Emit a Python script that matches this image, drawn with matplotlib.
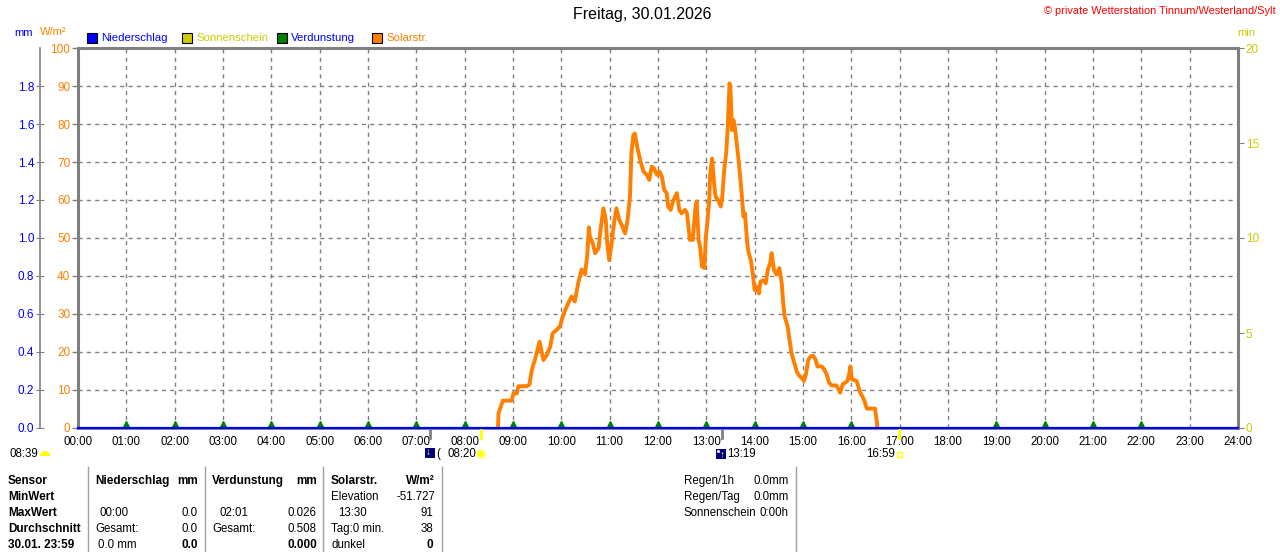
import matplotlib
matplotlib.use("Agg")
import matplotlib.pyplot as plt
from matplotlib.patches import Rectangle, Circle, Wedge
from matplotlib.transforms import IdentityTransform

W, H = 1280, 552
plt.rcParams['font.family'] = ['Liberation Sans', 'DejaVu Sans']
plt.rcParams['font.size'] = 8

# Solarstrahlung (W/m2), Zeit in Stunden
solar_hours = [8.69, 8.70, 8.79, 8.97, 9.01, 9.08, 9.11, 9.28, 9.34, 9.39,
               9.46, 9.55, 9.58, 9.63, 9.70, 9.77, 9.82, 9.90, 9.97, 10.04,
               10.13, 10.21, 10.28, 10.35, 10.42, 10.49, 10.54, 10.57, 10.59, 10.65,
               10.70, 10.77, 10.81, 10.87, 10.92, 10.95, 10.99, 11.04, 11.09, 11.14,
               11.20, 11.25, 11.32, 11.37, 11.42, 11.45, 11.49, 11.52, 11.57, 11.63,
               11.70, 11.77, 11.82, 11.87, 11.92, 11.98, 12.03, 12.08, 12.13, 12.18,
               12.21, 12.26, 12.32, 12.39, 12.44, 12.49, 12.56, 12.60, 12.66, 12.72,
               12.77, 12.80, 12.84, 12.87, 12.91, 12.96, 12.99, 13.02, 13.06, 13.08,
               13.12, 13.16, 13.19, 13.24, 13.30, 13.33, 13.37, 13.41, 13.44, 13.48,
               13.50, 13.53, 13.56, 13.59, 13.63, 13.66, 13.70, 13.73, 13.77, 13.80,
               13.84, 13.87, 13.92, 13.96, 14.00, 14.04, 14.09, 14.12, 14.18, 14.23,
               14.27, 14.32, 14.35, 14.40, 14.45, 14.51, 14.56, 14.59, 14.62, 14.68,
               14.72, 14.76, 14.81, 14.87, 14.92, 14.97, 15.02, 15.06, 15.11, 15.16,
               15.21, 15.26, 15.30, 15.39, 15.44, 15.49, 15.54, 15.59, 15.69, 15.74,
               15.77, 15.82, 15.87, 15.92, 15.96, 15.98, 16.01, 16.11, 16.17, 16.22,
               16.27, 16.32, 16.49, 16.53, 16.54]
solar_wm2 = [0.0, 3.9, 7.2, 7.2, 9.1, 9.1, 11.0, 11.0, 11.4, 15.3,
             18.3, 22.7, 20.9, 17.9, 19.2, 21.4, 24.9, 25.8, 26.7, 29.8,
             32.5, 34.6, 33.3, 38.2, 41.7, 40.4, 46.0, 52.8, 50.4, 48.6,
             46.0, 47.3, 52.1, 57.8, 54.7, 48.6, 44.2, 48.6, 53.9, 57.8,
             54.7, 53.4, 51.2, 54.7, 60.9, 72.3, 77.1, 77.5, 74.0, 70.5,
             67.5, 66.6, 65.3, 68.8, 68.3, 66.6, 67.5, 66.1, 62.6, 61.8,
             58.3, 57.4, 60.0, 61.8, 57.4, 56.5, 57.4, 56.5, 49.5, 49.5,
             57.4, 59.6, 49.5, 47.7, 42.5, 42.1, 50.3, 53.9, 60.0, 67.0,
             70.9, 64.4, 60.9, 60.0, 58.3, 60.9, 67.9, 72.3, 78.4, 90.7,
             88.9, 78.4, 81.1, 79.3, 74.9, 71.4, 66.1, 61.8, 55.6, 56.5,
             49.5, 46.4, 44.2, 40.7, 36.3, 37.2, 35.4, 38.5, 38.9, 38.1,
             41.6, 43.3, 46.0, 41.6, 40.4, 42.1, 38.1, 32.9, 29.4, 26.8,
             23.3, 19.8, 17.6, 14.9, 13.8, 13.2, 12.4, 14.1, 18.0, 18.9,
             19.0, 18.0, 16.2, 16.2, 15.4, 14.1, 11.9, 11.2, 11.2, 10.1,
             9.3, 11.5, 11.9, 12.4, 14.5, 16.2, 12.8, 12.4, 9.7, 8.5,
             7.2, 5.1, 5.1, 1.4, 0.0]

# Niederschlag (mm) und Verdunstung (mm)
niederschlag_hours = [0, 24]
niederschlag_mm = [0.0, 0.0]
verdunstung_hours = [1, 2, 3, 4, 5, 6, 7, 8, 9, 10, 11, 12, 13, 14, 15, 16, 19, 20, 21, 22]
verdunstung_mm = [0.02, 0.02, 0.02, 0.02, 0.02, 0.02, 0.02, 0.02, 0.02, 0.02,
                  0.02, 0.02, 0.02, 0.02, 0.02, 0.02, 0.02, 0.02, 0.02, 0.02]

hour_labels = ["00:00", "01:00", "02:00", "03:00", "04:00", "05:00", "06:00", "07:00",
               "08:00", "09:00", "10:00", "11:00", "12:00", "13:00", "14:00", "15:00",
               "16:00", "17:00", "18:00", "19:00", "20:00", "21:00", "22:00", "23:00", "24:00"]
mm_ticks = [0.0, 0.2, 0.4, 0.6, 0.8, 1.0, 1.2, 1.4, 1.6, 1.8]
wm2_ticks = [0, 10, 20, 30, 40, 50, 60, 70, 80, 90, 100]
min_ticks = [0, 5, 10, 15, 20]

sunrise, sunset = 8 + 20 / 60, 16 + 59 / 60
moon_events = [7 + 17 / 60, 13 + 19 / 60]

GRAY = '#808080'
ORANGE = '#ff8000'
BLUE = '#0000ff'
YELLOW = '#cccc00'
GREEN = '#008000'


def fx(x):
    return x / W


def fy(y):
    return 1 - y / H


fig = plt.figure(figsize=(W / 100, H / 100), dpi=100)

ax = fig.add_axes([fx(78), fy(428), 1160 / W, 380 / H])
ax.set_xlim(0, 24)
ax.set_ylim(0, 100)
ax.set_xticks(range(25))
ax.set_xticklabels(hour_labels)
ax.set_yticks(wm2_ticks)
ax.tick_params(axis='x', length=0, pad=6, labelsize=8.3)
ax.tick_params(axis='y', length=4.5, color=GRAY, width=1, labelcolor=ORANGE, pad=1, labelsize=8.5)
ax.grid(True, color=GRAY, ls=(0, (3, 3)), lw=1)
for s in ['top', 'left', 'right']:
    ax.spines[s].set_color(GRAY)
    ax.spines[s].set_linewidth(2.2)
ax.spines['bottom'].set_color(GRAY)
ax.spines['bottom'].set_linewidth(2)

ax.plot(solar_hours, solar_wm2, color=ORANGE, lw=2.8, zorder=5)

# Sonnenauf-/untergang und Mond Markierungen unter der Achse
for t in [sunrise, sunset]:
    ax.plot([t, t], [0, -2.6], color='#ffff00', lw=2, clip_on=False, zorder=6)
for t in moon_events:
    ax.plot([t, t], [0, -2.6], color=GRAY, lw=2, clip_on=False, zorder=6)

# mm Achse links
ax_mm = ax.twinx()
ax_mm.set_ylim(0, 2)
ax_mm.yaxis.tick_left()
ax_mm.spines['left'].set_position(('outward', 27.5))
ax_mm.spines['left'].set_color(GRAY)
ax_mm.spines['left'].set_linewidth(1.2)
for s in ['top', 'bottom', 'right']:
    ax_mm.spines[s].set_visible(False)
ax_mm.set_yticks(mm_ticks)
ax_mm.set_yticklabels([f"{v:.1f}" for v in mm_ticks])
ax_mm.tick_params(axis='y', direction='inout', length=6, color=GRAY, labelcolor=BLUE,
                  pad=1, labelsize=8.5)
ax_mm.plot(niederschlag_hours, niederschlag_mm, color=BLUE, lw=1.6, clip_on=False, zorder=7)
ax_mm.plot(verdunstung_hours, verdunstung_mm, ls='none', marker='^', ms=5,
           color=GREEN, zorder=6)

# min Achse rechts
ax_min = ax.twinx()
ax_min.set_ylim(0, 20)
ax_min.set_yticks(min_ticks)
for s in ['top', 'bottom', 'left', 'right']:
    ax_min.spines[s].set_visible(False)
ax_min.tick_params(axis='y', length=4.5, color=GRAY, labelcolor=YELLOW, pad=1, labelsize=8.5)

# Kopf
fig.text(fx(642), fy(15), "Freitag, 30.01.2026", ha='center', va='center', fontsize=11.5)
fig.text(fx(1276), fy(11), "\u00a9 private Wetterstation Tinnum/Westerland/Sylt",
         ha='right', va='center', fontsize=7.9, color='#ff0000')
fig.text(fx(14), fy(33), "mm", color=BLUE, va='center', fontsize=8)
fig.text(fx(40), fy(32), "W/m\u00b2", color=ORANGE, va='center', fontsize=8)
fig.text(fx(1237), fy(33), "min", color=YELLOW, va='center', fontsize=8)

legend_items = [(87, "Niederschlag", BLUE, BLUE), (182, "Sonnenschein", YELLOW, YELLOW),
                (277, "Verdunstung", GREEN, BLUE), (372, "Solarstr.", ORANGE, ORANGE)]
for x0, label, fc, tc in legend_items:
    fig.patches.append(Rectangle((fx(x0), fy(43)), 10 / W, 10 / H, transform=fig.transFigure,
                                 facecolor=fc, edgecolor='black', lw=0.8))
    fig.text(fx(x0 + 14), fy(38), label, color=tc, va='center', fontsize=8.2)

# zweite Zeile unter der Zeitachse (Symbole in Pixelkoordinaten)
pix = IdentityTransform()
fig.text(fx(10), fy(454), "08:39", va='center', fontsize=8.3)
fig.patches.append(Wedge((45, H - 456), 5, 0, 180, transform=pix,
                         facecolor='#ffff00', edgecolor='none'))
fig.patches.append(Rectangle((425, H - 458), 10, 10, transform=pix,
                             facecolor='#000080', edgecolor='none'))
fig.text(fx(428), fy(452), "\u2193", color='#ffff00', va='center', ha='center', fontsize=7,
         fontweight='bold')
fig.text(fx(436), fy(454), "(", va='center', fontsize=8.3)
fig.text(fx(447), fy(454), "08:20", va='center', fontsize=8.3)
fig.patches.append(Circle((481, H - 454), 4, transform=pix,
                          facecolor='#ffff00', edgecolor='#ffff80', lw=1.5))
fig.patches.append(Rectangle((716, H - 459), 10, 10, transform=pix,
                             facecolor='#000080', edgecolor='none'))
fig.patches.append(Circle((718.5, H - 451.5), 1.5, transform=pix,
                          facecolor='white', edgecolor='none'))
fig.text(fx(722), fy(455), "\u2191", color='#ffff00', va='center', ha='center', fontsize=7,
         fontweight='bold')
fig.text(fx(727), fy(454), "13:19", va='center', fontsize=8.3)
fig.text(fx(866), fy(454), "16:59", va='center', fontsize=8.3)
fig.patches.append(Rectangle((897, H - 457), 5, 5, transform=pix,
                             facecolor='none', edgecolor='#ffff00', lw=1))

# Tabelle
for xs in [88, 205, 323, 442, 796]:
    fig.add_artist(plt.Line2D([fx(xs), fx(xs)], [fy(467), fy(552)], color='#a0a0a0', lw=1))

row_y = [481, 497, 513, 529, 545]
sensor_col = ["Sensor", "MinWert", "MaxWert", "Durchschnitt", "30.01. 23:59"]
for y, s in zip(row_y, sensor_col):
    fig.text(fx(8), fy(y), s, va='center', fontsize=8.5, fontweight='bold')

cells = [
    # (x, row, text, align, bold)
    (95, 0, "Niederschlag", 'left', True), (198, 0, "mm", 'right', True),
    (212, 0, "Verdunstung", 'left', True), (317, 0, "mm", 'right', True),
    (331, 0, "Solarstr.", 'left', True), (435, 0, "W/m\u00b2", 'right', True),
    (331, 1, "Elevation", 'left', False), (435, 1, "-51.727", 'right', False),
    (100, 2, "00:00", 'left', False), (198, 2, "0.0", 'right', False),
    (219, 2, "02:01", 'left', False), (317, 2, "0.026", 'right', False),
    (338, 2, "13:30", 'left', False), (433, 2, "91", 'right', False),
    (95, 3, "Gesamt:", 'left', False), (198, 3, "0.0", 'right', False),
    (212, 3, "Gesamt:", 'left', False), (317, 3, "0.508", 'right', False),
    (331, 3, "Tag:0 min.", 'left', False), (433, 3, "38", 'right', False),
    (98, 4, "0.0 mm", 'left', False), (198, 4, "0.0", 'right', True),
    (317, 4, "0.000", 'right', True),
    (331, 4, "dunkel", 'left', False), (433, 4, "0", 'right', True),
]
for x, r, s, al, b in cells:
    fig.text(fx(x), fy(row_y[r]), s, ha=al, va='center', fontsize=8.5 if b else 8.3,
             fontweight='bold' if b else 'normal')

right_block = [("Regen/1h", "0.0mm"), ("Regen/Tag", "0.0mm"), ("Sonnenschein", "0:00h")]
for y, (a, b) in zip(row_y, right_block):
    fig.text(fx(684), fy(y), a, va='center', fontsize=8.3)
    fig.text(fx(789), fy(y), b, ha='right', va='center', fontsize=8.3)

fig.savefig("out.png", dpi=100)
